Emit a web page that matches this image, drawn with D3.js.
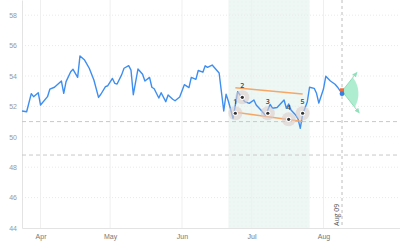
<!DOCTYPE html>
<html>
<head>
<meta charset="utf-8">
<script src="https://cdn.jsdelivr.net/npm/d3@7"></script>
<style>
  body { margin: 0; background: #fff; }
  svg { display: block; font-family: "Open Sans", sans-serif; }
</style>
</head>
<body>
<svg id="chart"></svg>
<script>
// price series
const dates = [
  '2024-03-24','2024-03-26','2024-03-28','2024-03-29','2024-03-31','2024-04-01','2024-04-04','2024-04-05',
  '2024-04-07','2024-04-10','2024-04-11','2024-04-12','2024-04-14','2024-04-15','2024-04-17','2024-04-18',
  '2024-04-20','2024-04-22','2024-04-24','2024-04-26','2024-04-27','2024-04-29','2024-04-30','2024-05-02',
  '2024-05-03','2024-05-04','2024-05-06','2024-05-07','2024-05-09','2024-05-10','2024-05-11','2024-05-13',
  '2024-05-15','2024-05-16','2024-05-18','2024-05-19','2024-05-20','2024-05-22','2024-05-23','2024-05-25',
  '2024-05-26','2024-05-28','2024-05-29','2024-05-31','2024-06-02','2024-06-04','2024-06-05','2024-06-07',
  '2024-06-08','2024-06-10','2024-06-11','2024-06-12','2024-06-14','2024-06-17','2024-06-19','2024-06-20',
  '2024-06-21','2024-06-23','2024-06-25','2024-06-28','2024-06-30','2024-07-02','2024-07-03','2024-07-05',
  '2024-07-07','2024-07-09','2024-07-10','2024-07-12','2024-07-14','2024-07-15','2024-07-16','2024-07-17',
  '2024-07-18','2024-07-20','2024-07-21','2024-07-22','2024-07-23','2024-07-25','2024-07-26','2024-07-28',
  '2024-07-29','2024-07-30','2024-08-01','2024-08-02','2024-08-04','2024-08-06','2024-08-07','2024-08-09'
];
const values = [
  51.70, 51.65, 52.84, 52.64, 52.90, 52.09, 52.64, 53.13,
  53.26, 53.67, 52.86, 53.63, 54.28, 54.44, 53.91, 55.32,
  55.05, 54.51, 53.74, 52.59, 52.80, 53.30, 53.36, 53.84,
  53.52, 53.47, 54.09, 54.51, 54.68, 54.39, 52.77, 54.46,
  54.11, 53.67, 53.91, 53.26, 53.16, 52.55, 52.90, 52.31,
  52.75, 52.47, 52.37, 52.62, 53.43, 53.24, 53.91, 53.78,
  54.36, 54.25, 54.67, 54.57, 54.72, 54.20, 51.70, 52.80,
  52.34, 51.22, 52.97, 52.31, 52.20, 52.42, 52.09, 51.76,
  51.40, 52.13, 51.88, 51.93, 52.26, 52.42, 51.88, 52.16,
  51.76, 51.43, 51.20, 50.56, 51.47, 52.29, 53.26, 53.19,
  52.86, 52.22, 53.14, 53.98, 53.67, 53.46, 53.28, 52.84
];

// pattern points 1..5
const patternLabels = ['1', '2', '3', '4', '5'];
const patternDates = ['2024-06-24', '2024-06-27', '2024-07-08', '2024-07-17', '2024-07-23'];
const patternValues = [51.55, 52.60, 51.55, 51.15, 51.55];

// channel lines
const upperLine = [['2024-06-24', 53.23], ['2024-07-23', 52.82]];
const lowerLine = [['2024-06-24', 51.61], ['2024-07-23', 51.00]];

// highlighted window
const bandRange = ['2024-06-21', '2024-07-26'];

// horizontal levels
const levels = [51.0, 48.8];

// current marker and projection
const markerDate = '2024-08-09';
const markerLabel = 'Aug 09';
const lastClose = 52.84;
const lastOpen = 53.06;
const fanStart = 53.0;
const fanTargets = [['2024-08-15', 54.15], ['2024-08-16', 51.65]];

const yTicks = [44, 46, 48, 50, 52, 54, 56, 58];
const monthTicks = ['2024-04-01', '2024-05-01', '2024-06-01', '2024-07-01', '2024-08-01'];

const W = 400, H = 250;
const margin = { top: 0, right: 0, bottom: 22, left: 22 };
const parse = d3.timeParse('%Y-%m-%d');

const x = d3.scaleTime()
  .domain([parse('2024-03-24'), parse('2024-09-03')])
  .range([margin.left, W - margin.right]);
const y = d3.scaleLinear()
  .domain([44, 59])
  .range([H - margin.bottom, margin.top]);

const svg = d3.select('#chart').attr('width', W).attr('height', H);

// dotted pattern for the band
const defs = svg.append('defs');
const pat = defs.append('pattern')
  .attr('id', 'dots').attr('width', 4).attr('height', 4)
  .attr('patternUnits', 'userSpaceOnUse');
pat.append('rect').attr('width', 4).attr('height', 4).attr('fill', '#eef7f4');
pat.append('circle').attr('cx', 2).attr('cy', 2).attr('r', 0.45).attr('fill', '#d9ebe5');

defs.append('marker')
  .attr('id', 'arrow').attr('viewBox', '0 0 10 10')
  .attr('refX', 5).attr('refY', 5)
  .attr('markerWidth', 6).attr('markerHeight', 6)
  .attr('orient', 'auto')
  .append('path').attr('d', 'M0,1 L9,5 L0,9 Z').attr('fill', '#8fe0bb');

// band
svg.append('rect')
  .attr('x', x(parse(bandRange[0])))
  .attr('y', margin.top)
  .attr('width', x(parse(bandRange[1])) - x(parse(bandRange[0])))
  .attr('height', y(44) - margin.top)
  .attr('fill', 'url(#dots)');

// grid
svg.append('g')
  .selectAll('line')
  .data(yTicks.slice(1))
  .join('line')
  .attr('x1', margin.left).attr('x2', W)
  .attr('y1', d => y(d)).attr('y2', d => y(d))
  .attr('stroke', '#e9e9e9').attr('stroke-dasharray', '1,2');

svg.append('g')
  .selectAll('line')
  .data(monthTicks)
  .join('line')
  .attr('x1', d => x(parse(d))).attr('x2', d => x(parse(d)))
  .attr('y1', margin.top).attr('y2', y(44))
  .attr('stroke', '#efefef');

// axes
const xAxis = svg.append('g')
  .attr('transform', `translate(0,${y(44)})`)
  .call(d3.axisBottom(x).tickValues(monthTicks.map(parse)).tickFormat(d3.timeFormat('%b')).tickSize(0).tickPadding(6));
xAxis.select('.domain').attr('stroke', '#e3e3e3');
xAxis.selectAll('text').attr('fill', '#777').attr('font-size', 7);

const yAxis = svg.append('g')
  .attr('transform', `translate(${margin.left},0)`)
  .call(d3.axisLeft(y).tickValues(yTicks).tickSize(0).tickPadding(5));
yAxis.select('.domain').attr('stroke', '#e3e3e3');
yAxis.selectAll('text').attr('fill', '#999').attr('font-size', 7);

// levels
svg.append('g')
  .selectAll('line')
  .data(levels)
  .join('line')
  .attr('x1', margin.left).attr('x2', W)
  .attr('y1', d => y(d)).attr('y2', d => y(d))
  .attr('stroke', '#c8c8c8').attr('stroke-dasharray', '4,3');

// vertical marker line
const mx = x(parse(markerDate));
svg.append('line')
  .attr('x1', mx).attr('x2', mx)
  .attr('y1', margin.top).attr('y2', y(44))
  .attr('stroke', '#bdbdbd').attr('stroke-dasharray', '3,3');
svg.append('text')
  .attr('transform', `translate(${mx - 3},${y(44) - 2}) rotate(-90)`)
  .attr('font-size', 7).attr('fill', '#555')
  .text(markerLabel);

// price line
const series = dates.map((d, i) => ({ date: parse(d), value: values[i] }));
svg.append('path')
  .datum(series)
  .attr('fill', 'none')
  .attr('stroke', '#3d8ef0')
  .attr('stroke-width', 1.4)
  .attr('stroke-linejoin', 'round')
  .attr('d', d3.line().x(d => x(d.date)).y(d => y(d.value)));

// channel
[upperLine, lowerLine].forEach(seg => {
  svg.append('line')
    .attr('x1', x(parse(seg[0][0]))).attr('y1', y(seg[0][1]))
    .attr('x2', x(parse(seg[1][0]))).attr('y2', y(seg[1][1]))
    .attr('stroke', '#f6a765').attr('stroke-width', 1.5);
});

// pattern points
const pts = svg.append('g')
  .selectAll('g')
  .data(patternDates.map((d, i) => ({ date: parse(d), value: patternValues[i], label: patternLabels[i] })))
  .join('g')
  .attr('transform', d => `translate(${x(d.date)},${y(d.value)})`);
pts.append('circle').attr('r', 7).attr('fill', '#dccccc').attr('opacity', 0.6);
pts.append('circle').attr('r', 2.6).attr('fill', '#fff');
pts.append('circle').attr('r', 1.6).attr('fill', '#333');
pts.append('text')
  .attr('y', -9).attr('text-anchor', 'middle')
  .attr('font-size', 7).attr('font-weight', 600).attr('fill', '#444')
  .text(d => d.label);

// projection fan
const ax = mx, ay = y(fanStart);
const ends = fanTargets.map(t => [x(parse(t[0])), y(t[1])]);
const part = ends.map(e => [ax + (e[0] - ax) * 0.78, ay + (e[1] - ay) * 0.78]);
const rad = Math.hypot(part[0][0] - ax, part[0][1] - ay);
svg.append('path')
  .attr('d', `M${ax},${ay} L${part[0][0]},${part[0][1]} A${rad * 1.5},${rad * 1.5} 0 0 1 ${part[1][0]},${part[1][1]} Z`)
  .attr('fill', '#a6ebcb').attr('opacity', 0.9);
ends.forEach(e => {
  svg.append('line')
    .attr('x1', ax).attr('y1', ay).attr('x2', e[0]).attr('y2', e[1])
    .attr('stroke', '#8fe0bb').attr('stroke-width', 1)
    .attr('marker-end', 'url(#arrow)');
});

// last bar marks
svg.append('rect')
  .attr('x', mx - 2).attr('y', y(lastOpen) - 2)
  .attr('width', 4).attr('height', 4)
  .attr('fill', '#f26b3a');
svg.append('circle')
  .attr('cx', mx).attr('cy', y(lastClose)).attr('r', 2.4)
  .attr('fill', '#3a7fe0');
</script>
</body>
</html>
